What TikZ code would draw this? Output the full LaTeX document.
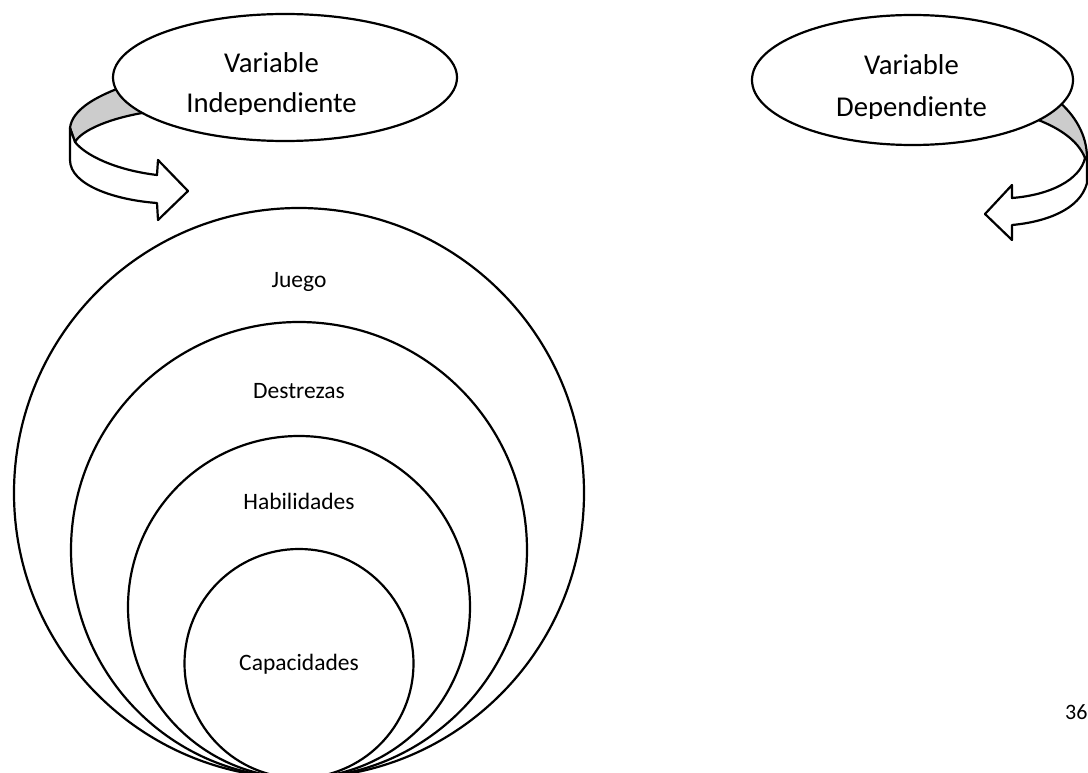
\documentclass[tikz,border=0pt]{standalone}
\usepackage{fontspec}
\setmainfont{Carlito}
\usetikzlibrary{shapes.geometric}
\definecolor{ribgray}{RGB}{204,204,204}
\begin{document}
\begin{tikzpicture}[x=1pt,y=-1pt,
  line width=2.2pt, line join=round,
  ring/.style={draw=black},
  oval/.style={ellipse, draw=black, fill=white, inner sep=0pt},
  ovaltext/.style={font=\fontsize{28.7}{34}\selectfont, anchor=base, inner sep=0pt},
  ringtext/.style={font=\fontsize{23.5}{28}\selectfont, anchor=base, inner sep=0pt},
  face/.style={draw=black, fill=ribgray},
  band/.style={draw=black, fill=white}]
\useasboundingbox (0,0) rectangle (1088,773);

% nested circles, all touching at the bottom
\draw[ring] (299,493) circle[radius=285];
\draw[ring] (299,550) circle[radius=228];
\draw[ring] (299,607) circle[radius=171];
\draw[ring] (299,663.5) circle[radius=114.5];

\node[ringtext] (juego) at (299,287.5) {Juego};
\node[ringtext] (destrezas) at (299,398) {Destrezas};
\node[ringtext] (habilidades) at (299,509) {Habilidades};
\node[ringtext] (capacidades) at (299,670) {Capacidades};

% left curved ribbon arrow
\draw[face] (122,87) .. controls (95,97) and (72,110) .. (70,128) -- (75,142)
  .. controls (82,130) and (110,118) .. (148,112) -- cycle;
\draw[band] (70,128) -- (70,160) .. controls (70,185) and (115,200) .. (157,203)
  -- (158,220) -- (188,191) -- (158,160) -- (157,175)
  .. controls (115,170) and (85,155) .. (75,142) -- cycle;

% right curved ribbon arrow
\draw[face] (1057,100) .. controls (1075,115) and (1087,135) .. (1087,158) -- (1085,158)
  .. controls (1078,140) and (1058,127) .. (1033,118) -- cycle;
\draw[band] (1087,158) -- (1087,183) .. controls (1080,210) and (1045,222) .. (1012,225)
  -- (1012,240) -- (985,214) -- (1012,185) -- (1012,198)
  .. controls (1050,195) and (1080,180) .. (1085,158) -- cycle;

% ellipses
\node[oval, minimum width=344pt, minimum height=127pt] (indep) at (285,77.5) {};
\node[oval, minimum width=321pt, minimum height=130pt] (dep) at (912.5,80) {};

\node[ovaltext] (v1) at (271.5,73) {Variable};
\begin{scope}
  \clip (150,80) rectangle (400,115);
  \node[ovaltext] (v2) at (271.5,113) {Independiente};
\end{scope}
\node[ovaltext] (v3) at (911.5,75) {Variable};
\begin{scope}
  \clip (780,82) rectangle (1040,119);
  \node[ovaltext] (v4) at (911.5,117) {Dependiente};
\end{scope}

\node[anchor=base west, inner sep=0pt, font=\fontsize{22}{26}\selectfont] (page) at (1064,719) {36};
\end{tikzpicture}
\end{document}
